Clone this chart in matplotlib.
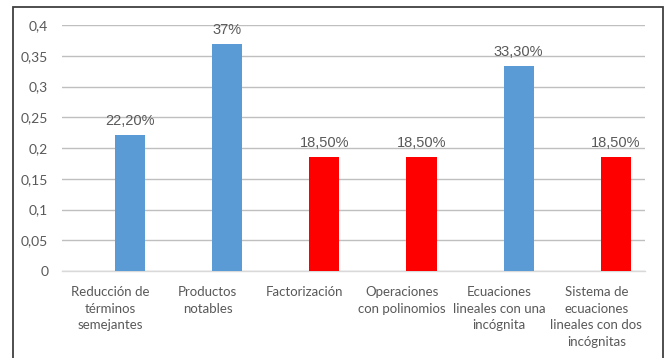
import numpy as np
import matplotlib
matplotlib.use("Agg")
import matplotlib.pyplot as plt
from matplotlib.patches import Rectangle

# data
categories = [
    "Reducción de\ntérminos\nsemejantes",
    "Productos\nnotables",
    "Factorización",
    "Operaciones\ncon polinomios",
    "Ecuaciones\nlineales con una\nincógnita",
    "Sistema de\necuaciones\nlineales con dos\nincógnitas",
]
values = [0.222, 0.37, 0.185, 0.185, 0.333, 0.185]
value_labels = ["22,20%", "37%", "18,50%", "18,50%", "33,30%", "18,50%"]
series = ["azul", "azul", "rojo", "rojo", "azul", "rojo"]
yticks = [0, 0.05, 0.1, 0.15, 0.2, 0.25, 0.3, 0.35, 0.4]
ytick_labels = ["0", "0,05", "0,1", "0,15", "0,2", "0,25", "0,3", "0,35", "0,4"]

COLORS = {"azul": "#5B9BD5", "rojo": "#FF0000"}
TEXT = "#595959"

fig = plt.figure(figsize=(6.67, 3.58), dpi=100)
ax = fig.add_axes([0.093, 0.243, 0.874, 0.687])

x = np.arange(len(categories))
offset = 0.2
ax.bar(x + offset, values, width=0.31,
       color=[COLORS[s] for s in series], zorder=3)

for xi, v, lab in zip(x, values, value_labels):
    ax.annotate(lab, (xi + offset, v), xytext=(0, 5), textcoords="offset points",
                ha="center", va="bottom", fontsize=10.5, color=TEXT,
                family="Liberation Sans")

ax.set_xlim(-0.5, len(categories) - 0.5)
ax.set_ylim(0, 0.4)
ax.set_yticks(yticks)
ax.set_yticklabels(ytick_labels, family="Lato", fontsize=10, color=TEXT)
ax.set_xticks(x)
ax.set_xticklabels(categories, family="Lato", fontsize=9.5, color=TEXT,
                   linespacing=1.45, va="top")
ax.tick_params(axis="both", length=0)
ax.tick_params(axis="x", pad=11)
ax.tick_params(axis="y", pad=10)

ax.grid(axis="y", color="#BFBFBF", linewidth=1.0, zorder=0)
for s in ["top", "right", "left"]:
    ax.spines[s].set_visible(False)
ax.spines["bottom"].set_color("#D9D9D9")
ax.spines["bottom"].set_linewidth(1.0)

# outer frame of the chart area
fig.patches.append(Rectangle((0.0195, -0.05), 0.975, 1.03, transform=fig.transFigure,
                             fill=False, edgecolor="#404040", linewidth=1.3))

fig.savefig("out.png", dpi=100, facecolor="white")
